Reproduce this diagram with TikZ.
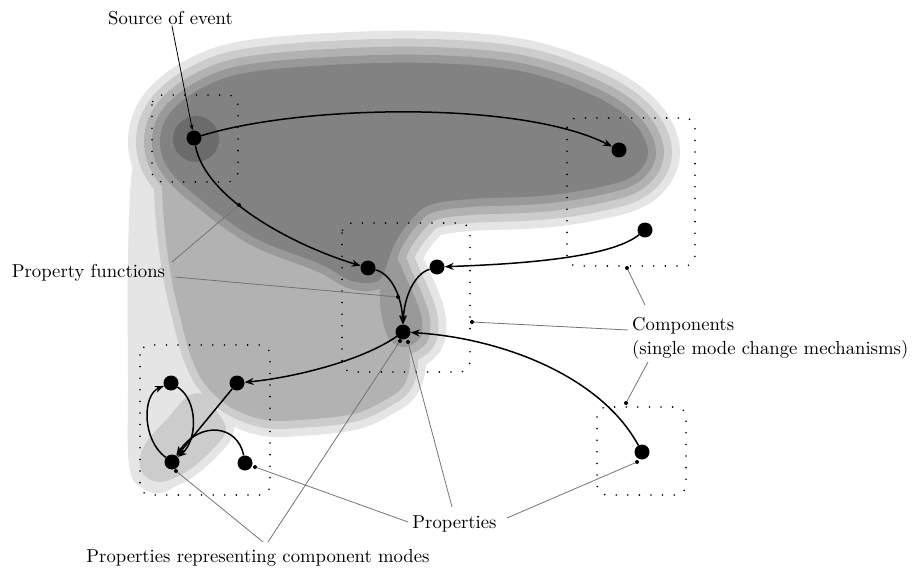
\documentclass[tikz,border=0pt]{standalone}
\usepackage{fontspec}
\setmainfont{lmroman10-regular}[Extension=.otf]
\usetikzlibrary{arrows.meta}

% grey levels of the influence regions, lightest to darkest
\definecolor{lvA}{gray}{0.90}
\definecolor{lvB}{gray}{0.80}
\definecolor{lvC}{gray}{0.70}
\definecolor{lvD}{gray}{0.60}
\definecolor{lvE}{gray}{0.51}
\definecolor{lvF}{gray}{0.42}
\definecolor{noteline}{gray}{0.45}

% region outlines (core of each region)
\newcommand\regDark{plot[smooth cycle, tension=0.6] coordinates {(160,140) (170,113) (200,89) (245,73) (330,65) (430,63) (520,71) (590,94) (632,121) (648,152) (633,176) (595,188) (540,196) (470,199) (430,205) (411,220) (395,243) (387,264) (378,281) (352,281) (320,264) (253,237) (196,196) (168,168)}}
\newcommand\regFinger{plot[smooth cycle, tension=0.6] coordinates {(385,262) (396,258) (406,278) (416,300) (422,320) (420,338) (405,347) (390,340) (382,318) (380,290)}}
\newcommand\regMid{plot[smooth cycle, tension=0.6] coordinates {(170,150) (230,215) (300,258) (360,290) (388,305) (402,330) (410,360) (404,385) (385,400) (353,414) (300,420) (265,420) (232,408) (208,388) (193,362) (182,325) (170,270) (163,210) (163,170)}}
\newcommand\regTail{plot[smooth cycle, tension=0.6] coordinates {(140,458) (148,440) (168,418) (188,396) (205,395) (216,410) (226,430) (212,450) (186,472) (160,482) (143,474)}}
\newcommand\regWide{plot[smooth cycle, tension=0.6] coordinates {(145,120) (195,150) (215,250) (205,350) (195,400) (185,470) (165,492) (142,488) (129,465) (128,380) (128,260) (132,170)}}

\tikzset{
  vertex/.style={circle, fill=black, inner sep=0pt, minimum size=15pt},
  pdot/.style={circle, fill=black, inner sep=0pt, minimum size=4pt},
  flow/.style={line width=1.5pt, -{Stealth[length=9pt,width=7pt,inset=3pt]}},
  note/.style={draw=noteline, line width=0.8pt},
  compbox/.style={line width=1.8pt, dash pattern=on 0pt off 11.6pt, line cap=round, rounded corners=10pt},
  lbl/.style={font=\fontsize{18.7}{24}\selectfont, inner sep=0pt},
}

\begin{document}
\begin{tikzpicture}[x=1pt, y=-1pt]
\useasboundingbox (0,0) rectangle (916,572);

% --- shaded regions, built up level by level ---
\fill[lvA] \regWide;
\draw[lvA, line width=64pt] \regDark;
\draw[lvA, line width=48pt] \regFinger;
\draw[lvA, line width=32pt] \regMid;
\draw[lvA, line width=16pt] \regTail;

\draw[lvB, line width=48pt] \regDark;
\draw[lvB, line width=32pt] \regFinger;
\draw[lvB, line width=16pt] \regMid;
\fill[lvB] \regTail;

\draw[lvC, line width=32pt] \regDark;
\draw[lvC, line width=16pt] \regFinger;
\fill[lvC] \regMid;

\draw[lvD, line width=16pt] \regDark;
\fill[lvD] \regFinger;

\fill[lvE] \regDark;
\fill[lvF] (196,139) circle (23);

% --- components ---
\draw[compbox] (152,95) rectangle (238,182);
\draw[compbox] (567,118) rectangle (695,266);
\draw[compbox] (342,223) rectangle (470,372);
\draw[compbox] (140,345) rectangle (270,495);
\draw[compbox] (597,407) rectangle (686,495);

% --- properties ---
\node[vertex] (S) at (194,138) {};
\node[vertex] (TR1) at (619,150) {};
\node[vertex] (TR2) at (645,230) {};
\node[vertex] (M1) at (368,268) {};
\node[vertex] (M2) at (437,267) {};
\node[vertex] (MB) at (403,332) {};
\node[vertex] (BL1) at (171,383) {};
\node[vertex] (BL2) at (237,383) {};
\node[vertex] (BL3) at (172,462) {};
\node[vertex] (BL4) at (245,463) {};
\node[vertex] (BR) at (642,452) {};

% --- property functions ---
\draw[flow] (S) .. controls (300,105) and (520,100) .. (TR1);
\draw[flow] (S) .. controls (205,198) and (292,245) .. (M1);
\draw[flow] (M1) .. controls (392,274) and (402,298) .. (MB);
\draw[flow] (M2) .. controls (414,274) and (404,298) .. (MB);
\draw[flow] (TR2) .. controls (610,258) and (520,264) .. (M2);
\draw[flow] (BR) .. controls (600,375) and (500,338) .. (MB);
\draw[flow] (MB) .. controls (360,362) and (290,378) .. (BL2);
\draw[flow] (BL2) -- (BL3);
\draw[flow] (BL4) .. controls (238,425) and (200,420) .. (BL3);
\draw[flow] (BL1) .. controls (198,400) and (198,440) .. (BL3);
\draw[flow] (BL3) .. controls (142,440) and (142,395) .. (BL1);

% --- labels ---
\node[lbl, anchor=base] (src) at (170.5,25) {Source of event};
\node[lbl, anchor=base] (pf) at (88.5,277) {Property functions};
\node[lbl, anchor=north west, align=left] (comp) at (632,317) {Components\\(single mode change mechanisms)};
\node[lbl, anchor=base] (props) at (454.5,528) {Properties};
\node[lbl, anchor=base] (pmodes) at (258,562) {Properties representing component modes};

% annotation end points
\node[pdot] (pfA) at (239,205) {};
\node[pdot] (pfB) at (398,297) {};
\node[pdot] (cpA) at (627,268) {};
\node[pdot] (cpB) at (472,322) {};
\node[pdot] (cpC) at (626,403) {};
\node[pdot] (prA) at (408,342) {};
\node[pdot] (prB) at (255,467) {};
\node[pdot] (prC) at (637,462) {};
\node[pdot] (pmA) at (176,471) {};
\node[pdot] (pmB) at (400,341) {};

\coordinate (pf1) at (172,262);
\coordinate (pf2) at (175,277);
\coordinate (cp1) at (645,305);
\coordinate (cp2) at (628,330);
\coordinate (cp3) at (648,362);
\coordinate (pr1) at (452,507);
\coordinate (pr2) at (408,522);
\coordinate (pr3) at (507,518);
\coordinate (pm1) at (263,542);
\coordinate (pm2) at (268,542);

\draw[line width=0.8pt, -{Stealth[length=6pt,width=4pt]}] (src) -- (S);
\draw[note] (pf1) -- (pfA);
\draw[note] (pf2) -- (pfB);
\draw[note] (cp1) -- (cpA);
\draw[note] (cp2) -- (cpB);
\draw[note] (cp3) -- (cpC);
\draw[note] (pr1) -- (prA);
\draw[note] (pr2) -- (prB);
\draw[note] (pr3) -- (prC);
\draw[note] (pm1) -- (pmA);
\draw[note] (pm2) -- (pmB);
\end{tikzpicture}
\end{document}
